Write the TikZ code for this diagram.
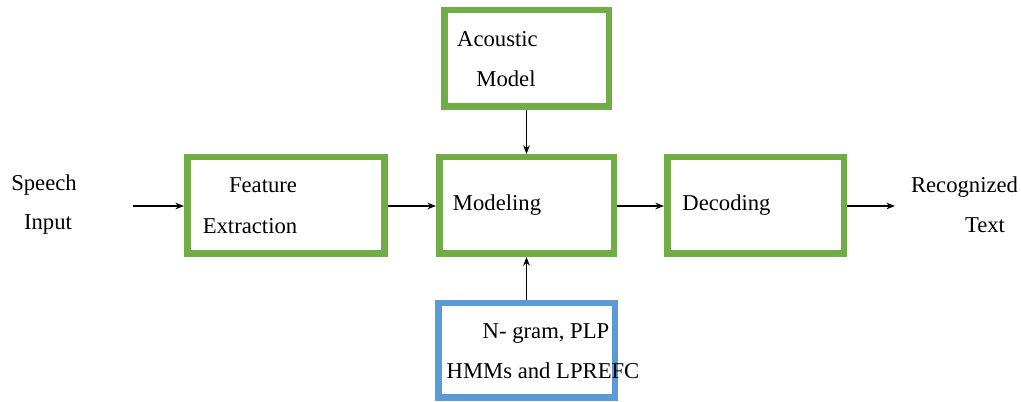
\documentclass[tikz,border=0pt]{standalone}
\usepackage{fontspec}
\setmainfont{Liberation Serif}
\usetikzlibrary{arrows.meta}
\definecolor{boxgreen}{HTML}{70AD47}
\definecolor{boxblue}{HTML}{5B9BD5}
\begin{document}
\begin{tikzpicture}[x=0.75pt,y=-0.75pt,
  box/.style={draw=boxgreen,line width=4.9pt,fill=white,inner sep=0pt,minimum height=72.4pt},
  bbox/.style={box,draw=boxblue},
  lbl/.style={anchor=base,inner sep=0pt,font=\fontsize{17}{20}\selectfont},
  arr/.style={-{Stealth[length=6.5pt,width=5pt]},line width=0.8pt},
  ]
\useasboundingbox (0,0) rectangle (1021,402);
% boxes
\node[box,minimum width=148.1pt] (fe) at (286,205.5) {};
\node[box,minimum width=130.9pt] (mod) at (526.5,205.5) {};
\node[box,minimum width=123.4pt] (am) at (526.5,58.5) {};
\node[box,minimum width=132.4pt] (dec) at (755.5,205.5) {};
\node[bbox,minimum width=132.4pt,minimum height=70.9pt] (ng) at (526.5,350.5) {};
% texts
\node[lbl] (t1) at (44,191) {Speech};
\node[lbl] (t2) at (48,230) {Input};
\node[lbl] (t3) at (263,193) {Feature};
\node[lbl] (t4) at (250,234) {Extraction};
\node[lbl] (t5) at (497.5,47) {Acoustic};
\node[lbl] (t6) at (506,87) {Model};
\node[lbl] (t7) at (497,211) {Modeling};
\node[lbl] (t8) at (726.5,211) {Decoding};
\node[lbl] (t9) at (964.5,193) {Recognized};
\node[lbl] (t10) at (985,233) {Text};
\node[lbl] (t11) at (546,339) {N- gram, PLP};
\node[lbl] (t12) at (543,379) {HMMs and LPREFC};
% connectors
\coordinate (in) at (133,206);
\coordinate (out) at (895,206);
\draw[arr] (in) -- (fe.west|-in);
\draw[arr] (fe.east|-in) -- (mod.west|-in);
\draw[arr] (mod.east|-in) -- (dec.west|-in);
\draw[arr] (dec.east|-in) -- (out);
\draw[arr] (am.south) -- (mod.north);
\draw[arr] (ng.north) -- (mod.south);
\end{tikzpicture}
\end{document}
